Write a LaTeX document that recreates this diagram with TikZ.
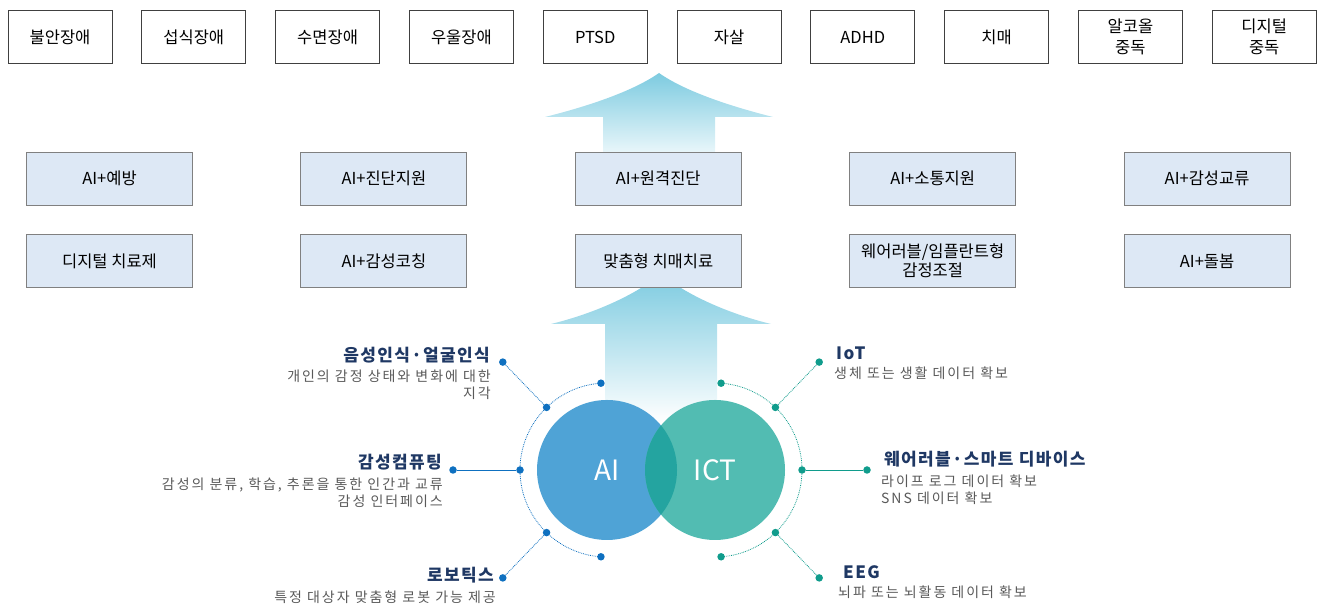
\documentclass[tikz,border=0pt]{standalone}
\usepackage{fontspec}
\setmainfont{Noto Sans CJK KR}
\newfontfamily\descfont{Noto Sans CJK KR}[LetterSpace=14]
\newfontfamily\ttlfont{Noto Sans CJK KR}[LetterSpace=8]
\usetikzlibrary{calc,positioning}
\definecolor{navy}{RGB}{31,56,100}
\definecolor{graytxt}{RGB}{89,89,89}
\definecolor{aiblue}{RGB}{79,163,214}
\definecolor{ictteal}{RGB}{82,188,178}
\definecolor{mixteal}{RGB}{36,164,160}
\definecolor{aidark}{RGB}{14,112,192}
\definecolor{ictdark}{RGB}{16,156,140}
\definecolor{boxfill}{RGB}{221,232,245}
\definecolor{arrtop}{RGB}{125,203,224}
\definecolor{arrbot}{RGB}{232,246,250}
\tikzset{
    topbox/.style = {draw=black!75, line width=0.9pt, fill=white, minimum width=104pt,
        minimum height=53pt, inner sep=1pt, align=center, font=\fontsize{16.5}{21}\selectfont},
    midbox/.style = {draw=black!50, line width=0.9pt, fill=boxfill, minimum width=166pt,
        minimum height=53pt, inner sep=1pt, align=center, font=\fontsize{16.5}{19}\selectfont},
    ttl/.style = {font=\ttlfont\fontsize{17}{19}\selectfont\bfseries, text=navy, inner sep=0pt},
    desc/.style = {font=\descfont\fontsize{14}{17}\selectfont, text=graytxt, inner sep=0pt},
    dotA/.style = {circle, fill=aidark, inner sep=0pt, minimum size=7.5pt},
    dotI/.style = {circle, fill=ictdark, inner sep=0pt, minimum size=7.5pt},
    venn/.style = {circle, minimum size=140pt, inner sep=0pt, text=white, font=\fontsize{28}{30}\selectfont},
}

\begin{document}
\begin{tikzpicture}[x=1pt, y=1pt]
\useasboundingbox (0,0) rectangle (1326,612);

\shade[top color=arrtop, bottom color=arrbot]
    (603,460) -- (603,495) -- (545,495) .. controls (585,505) and (632,520) .. (659,539)
    .. controls (686,520) and (733,505) .. (773,495) -- (715,495) -- (715,460) -- cycle;
\shade[top color=arrtop, bottom color=white]
    (605,190) -- (605,288) -- (551,288) .. controls (592,298) and (634,316) .. (661,338)
    .. controls (688,316) and (730,298) .. (771,288) -- (717,288) -- (717,190) -- cycle;

\foreach \t [count=\i] in {불안장애,섭식장애,수면장애,우울장애,PTSD,자살,ADHD,치매,{알코올\\중독},{디지털\\중독}}
    \node[topbox] (d\i) at ({60+133.8*(\i-1)},575) {\t};

\node[midbox] (m1) at (109.5,433.5) {AI+예방};
\node[midbox] (m2) at (383.9,433.5) {AI+진단지원};
\node[midbox] (m3) at (658.3,433.5) {AI+원격진단};
\node[midbox] (m4) at (932.7,433.5) {AI+소통지원};
\node[midbox] (m5) at (1207.1,433.5) {AI+감성교류};
\node[midbox] (m6) at (109.5,351) {디지털 치료제};
\node[midbox] (m7) at (383.9,351) {AI+감성코칭};
\node[midbox] (m8) at (658.3,351) {맞춤형 치매치료};
\node[midbox] (m9) at (932.7,351) {웨어러블/임플란트형\\감정조절};
\node[midbox] (m10) at (1207.1,351) {AI+돌봄};

\node[venn, fill=aiblue] (ai) at (607,142) {};
\node[venn, fill=ictteal] (ict) at (715,142) {};
\begin{scope}
    \clip (ai.center) circle[radius=70];
    \fill[mixteal] (ict.center) circle[radius=70];
\end{scope}
\node[venn] at (ai.center) {AI};
\node[venn] at (ict.center) {ICT};

\draw[aidark, densely dotted, line width=0.8pt] (ai.center) ++(94:87) arc[start angle=94, end angle=266, radius=87];
\draw[ictdark, densely dotted, line width=0.8pt] (ict.center) ++(86:87) arc[start angle=86, end angle=-86, radius=87];

\foreach \a [count=\i] in {94,134,180,226,266}
    \node[dotA] (a\i) at ($(ai.center)+(\a:87)$) {};
\foreach \a [count=\i] in {86,46,0,-46,-86}
    \node[dotI] (c\i) at ($(ict.center)+(\a:87)$) {};

\node[dotA] (pa1) at ($(ai.center)+(134:150)$) {};
\node[dotA] (pa2) at ($(ai.center)+(180:154)$) {};
\node[dotA] (pa3) at ($(ai.center)+(226:150)$) {};
\node[dotI] (pc1) at ($(ict.center)+(46:150)$) {};
\node[dotI] (pc2) at ($(ict.center)+(0:152)$) {};
\node[dotI] (pc3) at ($(ict.center)+(-46:150)$) {};

\draw[aidark, densely dotted, line width=0.8pt] (a2) -- (pa1);
\draw[aidark, line width=0.8pt] (a3) -- (pa2);
\draw[aidark, densely dotted, line width=0.8pt] (a4) -- (pa3);
\draw[ictdark, densely dotted, line width=0.8pt] (c2) -- (pc1);
\draw[ictdark, line width=0.8pt] (c3) -- (pc2);
\draw[ictdark, densely dotted, line width=0.8pt] (c4) -- (pc3);

\node[ttl, anchor=east] (l1) at (490,257) {음성인식·얼굴인식};
\node[desc, align=right, below left=7pt and -1pt of l1.south east] (l1d) {개인의 감정 상태와 변화에 대한\\지각};
\node[ttl, anchor=east] (l2) at (442,150) {감성컴퓨팅};
\node[desc, align=right, below left=7pt and -1pt of l2.south east] (l2d) {감성의 분류, 학습, 추론을 통한 인간과 교류\\감성 인터페이스};
\node[ttl, anchor=east] (l3) at (494,37) {로보틱스};
\node[desc, align=right, below left=7pt and -2pt of l3.south east] (l3d) {특정 대상자 맞춤형 로봇 가능 제공};

\node[ttl, anchor=west] (r1) at (836,259) {IoT};
\node[desc, align=left, below right=7pt and -2pt of r1.south west] (r1d) {생체 또는 생활 데이터 확보};
\node[ttl, anchor=west] (r2) at (884,153) {웨어러블·스마트 디바이스};
\node[desc, align=left, below right=7pt and -3pt of r2.south west] (r2d) {라이프 로그 데이터 확보\\SNS 데이터 확보};
\node[ttl, anchor=west] (r3) at (843,40) {EEG};
\node[desc, align=left, below right=7pt and -5pt of r3.south west] (r3d) {뇌파 또는 뇌활동 데이터 확보};
\end{tikzpicture}
\end{document}
